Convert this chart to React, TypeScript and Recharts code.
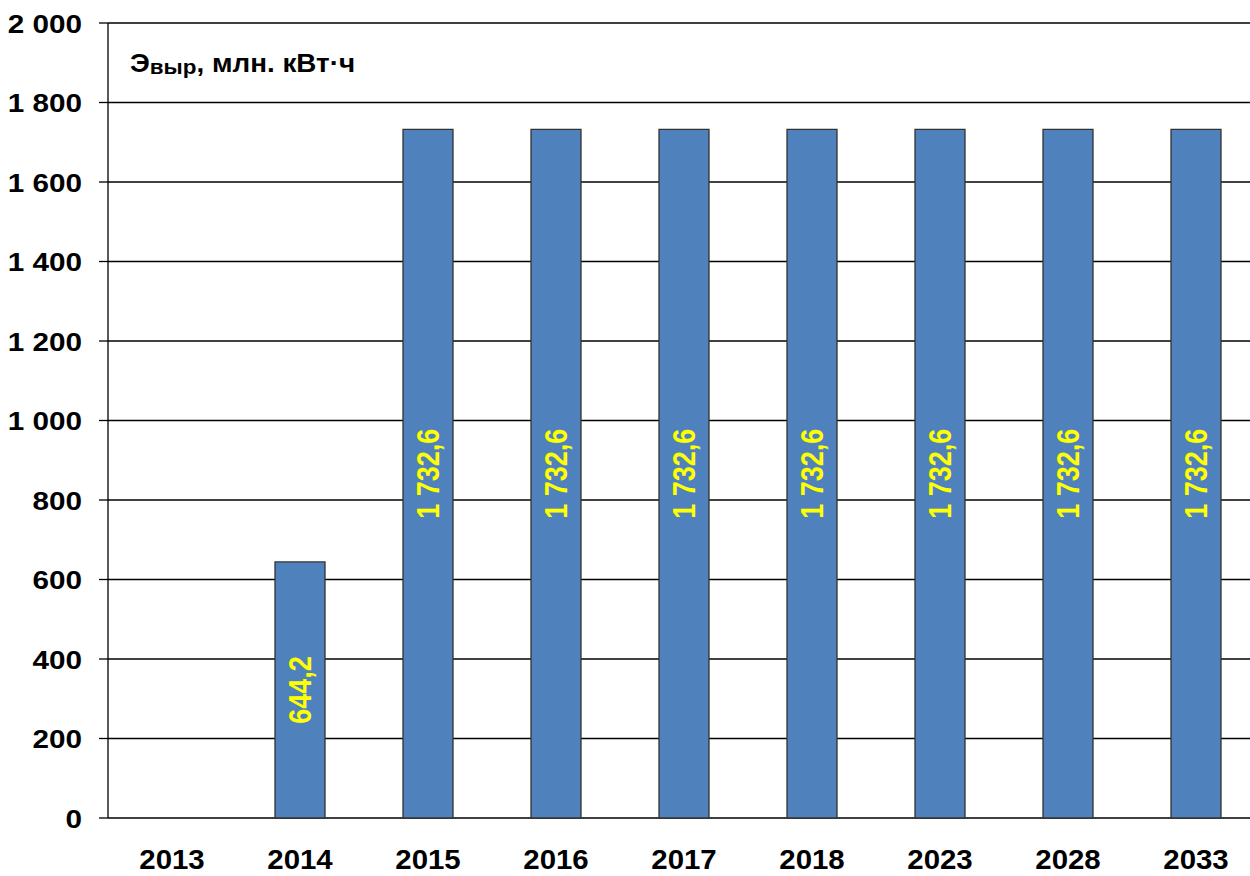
import React from "react";
import {
  BarChart,
  Bar,
  XAxis,
  YAxis,
  CartesianGrid,
  LabelList,
  Customized,
} from "recharts";

// years on the category axis
const years = ["2013", "2014", "2015", "2016", "2017", "2018", "2023", "2028", "2033"];
// output, mln kWh (2013 has no bar)
const output = [null, 644.2, 1732.6, 1732.6, 1732.6, 1732.6, 1732.6, 1732.6, 1732.6];
const yTicks = [0, 200, 400, 600, 800, 1000, 1200, 1400, 1600, 1800, 2000];
// boundary ticks between the categories
const boundaryTicks = [0, 1, 2, 3, 4, 5, 6, 7, 8, 9];

const data = years.map((year, i) => ({ year, value: output[i], idx: i + 0.5 }));

const FONT = '"Liberation Sans", Arial, sans-serif';
// the source picture is a bit stretched horizontally
const SX = 1.12;

// "1732.6" -> "1 732,6"
const fmtNum = (v: number, digits: number) => {
  const [int, frac] = v.toFixed(digits).split(".");
  const spaced = int.replace(/\B(?=(\d{3})+(?!\d))/g, " ");
  return frac ? `${spaced},${frac}` : spaced;
};

const YTick = (props: any) => {
  const { x, y, payload } = props;
  return (
    <g transform={`translate(${x},${y}) scale(${SX},1)`}>
      <text x={0} y={0} dy="0.36em" textAnchor="end" fill="#000"
        fontFamily={FONT} fontWeight="bold" fontSize={26.5}>
        {fmtNum(payload.value, 0)}
      </text>
    </g>
  );
};

const XTick = (props: any) => {
  const { x, y, payload } = props;
  return (
    <g transform={`translate(${x},${y}) scale(1.09,1)`}>
      <text x={0} y={0} dy="0.72em" textAnchor="middle" fill="#000"
        fontFamily={FONT} fontWeight="bold" fontSize={27}>
        {payload.value}
      </text>
    </g>
  );
};

const BarLabel = (props: any) => {
  const { x, y, width, height, value } = props;
  if (value == null) return null;
  const cx = Number(x) + Number(width) / 2;
  const cy = Number(y) + Number(height) / 2;
  return (
    <g transform={`translate(${cx},${cy}) scale(1.18,1) rotate(-90)`}>
      <text x={0} y={0} dy="0.36em" textAnchor="middle" fill="#FFFF00"
        fontFamily={FONT} fontWeight="bold" fontSize={27}>
        {fmtNum(Number(value), 1)}
      </text>
    </g>
  );
};

const Title = () => (
  <g transform={`translate(130,72) scale(1.07,1)`}>
    <text x={0} y={0} fontFamily={FONT} fontWeight="bold" fontSize={26} fill="#000">
      <tspan>Э</tspan>
      <tspan fontSize={21} dy={2}>выр</tspan>
      <tspan dy={-2}>, млн. кВт·ч</tspan>
    </text>
  </g>
);

export default function App() {
  return (
    <div
      style={{
        position: "absolute",
        left: 0,
        top: 0,
        width: 1250,
        height: 876,
        overflow: "hidden",
        background: "#fff",
      }}
    >
      <BarChart
        width={1260}
        height={876}
        data={data}
        margin={{ top: 23, right: 0, left: 0, bottom: 0 }}
        barSize={50}
      >
        <CartesianGrid vertical={false} stroke="#000" strokeWidth={1.3} />
        <XAxis
          xAxisId="edges"
          type="number"
          dataKey="idx"
          domain={[0, 9]}
          ticks={boundaryTicks}
          height={0}
          tickSize={10}
          tickFormatter={() => ""}
          axisLine={{ stroke: "#000", strokeWidth: 1.5 }}
          tickLine={{ stroke: "#000", strokeWidth: 1.3 }}
        />
        <XAxis
          xAxisId="cat"
          dataKey="year"
          height={58}
          axisLine={false}
          tickLine={false}
          tickSize={10}
          tickMargin={22}
          interval={0}
          tick={<XTick />}
        />
        <YAxis
          width={108}
          domain={[0, 2000]}
          ticks={yTicks}
          interval={0}
          tickSize={9}
          tickMargin={17}
          axisLine={{ stroke: "#000", strokeWidth: 1.3 }}
          tickLine={{ stroke: "#000", strokeWidth: 1.3 }}
          tick={<YTick />}
        />
        <Bar
          xAxisId="cat"
          dataKey="value"
          fill="#4F81BD"
          stroke="#333"
          strokeWidth={1.3}
          isAnimationActive={false}
        >
          <LabelList dataKey="value" content={<BarLabel />} />
        </Bar>
        <Customized component={Title} />
      </BarChart>
    </div>
  );
}
